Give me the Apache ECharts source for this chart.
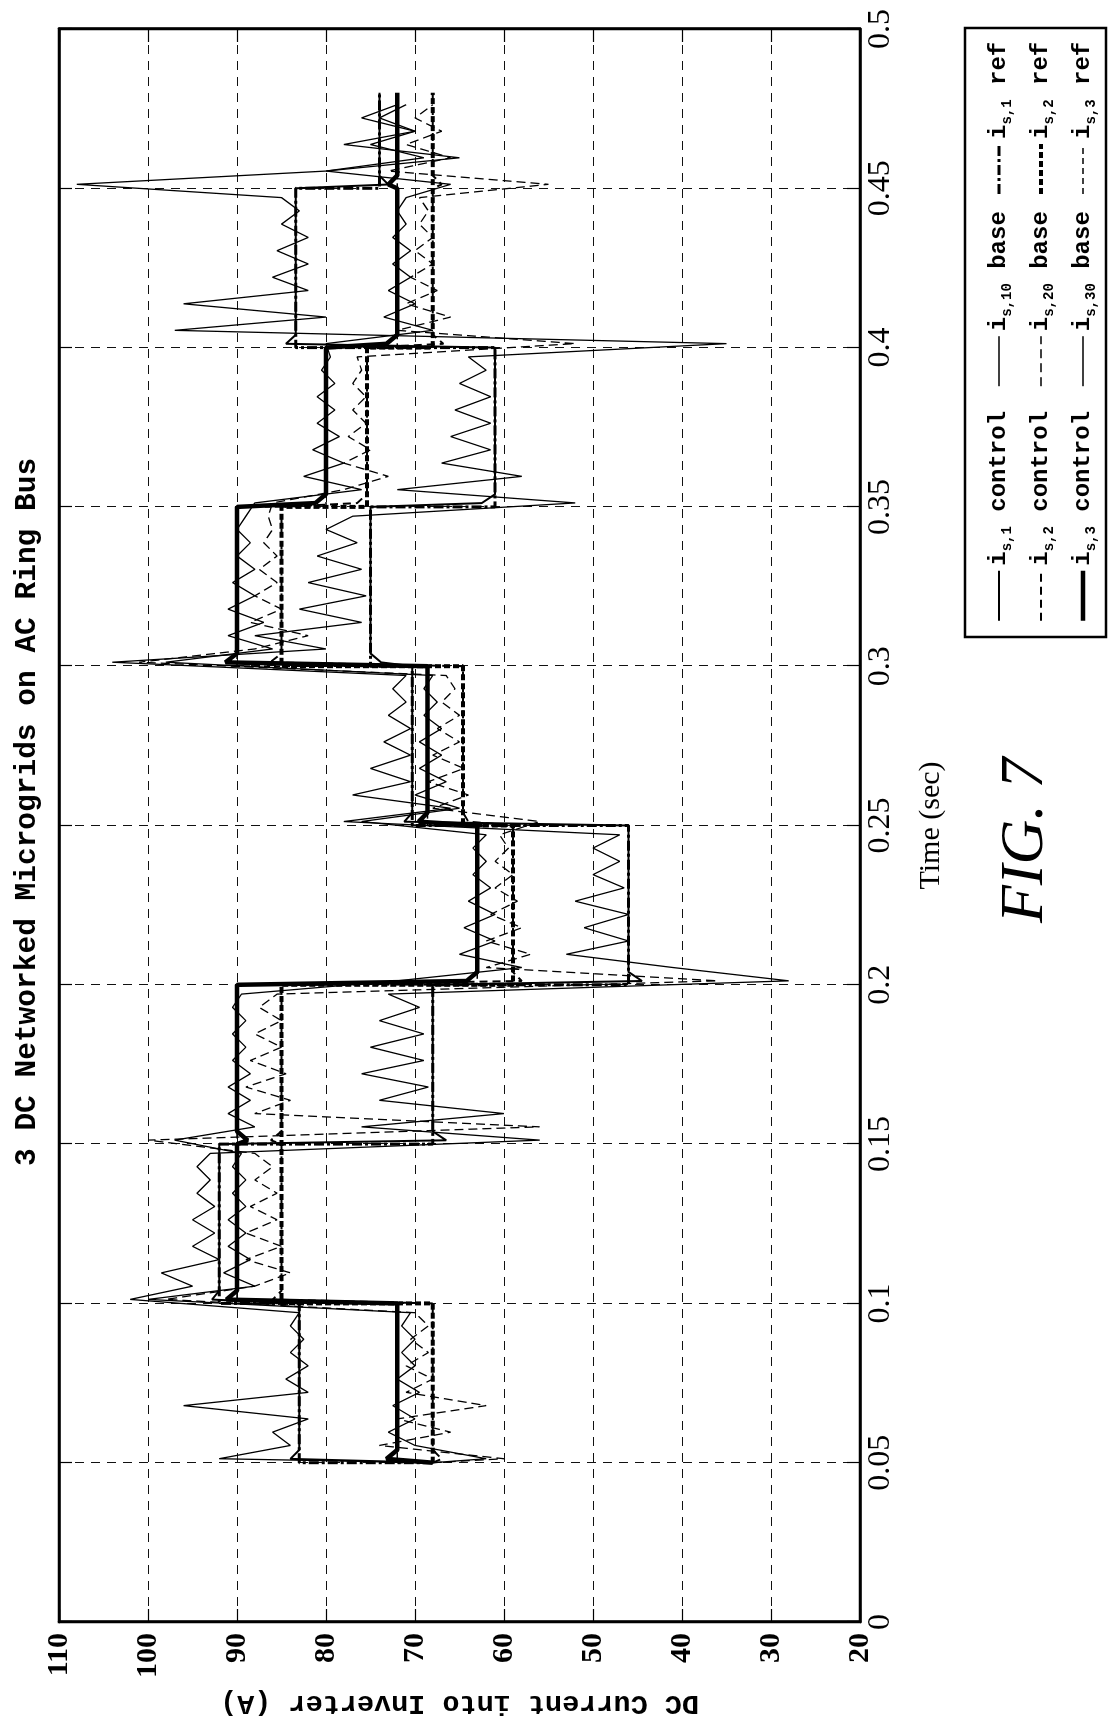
<!DOCTYPE html>
<html><head><meta charset="utf-8">
<script src="https://cdn.jsdelivr.net/npm/echarts@6/dist/echarts.min.js"></script>
<style>
html,body{margin:0;padding:0;width:1110px;height:1723px;overflow:hidden;background:#fff;}
#chart{position:absolute;left:0;top:0;width:1723px;height:1110px;transform-origin:0 0;transform:translate(0,1723px) rotate(-90deg);}
</style></head><body><div id="chart"></div>
<script>
// ---- data (time in s, current in A) ----
const stepTimes = [0.05, 0.10, 0.15, 0.20, 0.25, 0.30, 0.35, 0.40, 0.45];
const endTime = 0.48;
const startLevel = 68;
const timeTicks = [0, 0.05, 0.1, 0.15, 0.2, 0.25, 0.3, 0.35, 0.4, 0.45, 0.5];
const currentTicks = [20, 30, 40, 50, 60, 70, 80, 90, 100, 110];

// reference (step) levels per interval
const ref1 = [83, 92, 68, 46, 70.3, 75, 61, 83.4, 74];
const ref2 = [68, 85, 85, 59, 64.6, 85, 75.4, 68, 68];
const ref3 = [72, 90, 90, 63, 68.6, 90, 80, 72, 72];
// control: value reached just after each step (small overshoot)
const ctrlBump1 = [84, 92.8, 66.5, 44.5, 71.2, 73.8, 62.5, 84.5, 73];
const ctrlBump2 = [67, 86, 86.2, 58, 64, 86.3, 76.5, 66.8, 67];
const ctrlBump3 = [73.2, 91.2, 88.8, 64.2, 69.6, 91.3, 81.2, 73.2, 73];
// base (uncontrolled) currents, samples per interval
const base1 = [
  [92, 84, 86, 82, 96, 82, 84.5, 82, 84, 82.5, 84, 83],
  [102, 95, 98.5, 92, 95, 92.5, 95, 92.5, 94.5, 93, 94.5, 93],
  [56, 76, 60, 74, 68.5, 76, 69, 75, 69, 74, 69.5, 73],
  [28, 41, 53, 46, 51, 46, 52, 46.5, 50, 47, 50, 47],
  [78, 66, 77, 70.5, 75, 70.5, 73.5, 70.5, 73, 71, 72.5, 71],
  [104, 80, 88, 76, 83, 75.5, 82, 76, 81, 76.5, 80, 77],
  [52, 72, 58, 67, 61.5, 66, 61.5, 65.5, 61.5, 65, 62, 64],
  [35, 97, 80, 96, 82, 86, 82, 85.5, 82, 85, 83, 85],
  [108, 80, 65, 78, 70, 76, 72]
];
const base2 = [
  [60, 74, 66, 72, 62, 71, 68, 71, 68.5, 70.5, 68.5, 70],
  [98, 88, 84, 89, 85, 89, 85.5, 88.5, 85.5, 88, 86, 88],
  [100, 56, 88, 84, 89, 84.5, 88.5, 85, 88, 85, 87.5, 85.5],
  [36, 62, 57, 62, 58, 61.5, 58.5, 61, 59, 61, 59.5, 60.5],
  [56, 68, 64, 68.5, 64.5, 68, 65, 67.5, 65, 67, 65.5, 66.5],
  [101, 88, 82, 88.5, 85, 88, 85.5, 87.5, 85.5, 87, 86, 86.5],
  [86, 78, 73, 78, 75, 77.5, 75.5, 77, 75.5, 77, 76, 76.5],
  [52, 72, 66, 71, 67.5, 70.5, 68, 70, 68, 69.5, 68.5, 69.5],
  [55, 73, 66, 71, 67, 70, 68]
];
const base3 = [
  [62, 70, 73, 70, 72.5, 69.5, 72, 70, 71.5, 70, 71.5, 70.5],
  [100, 88, 91.5, 88.5, 91, 89, 91, 89, 90.5, 89, 90.5, 89.5],
  [97, 88, 91, 88.5, 91, 88.5, 90.5, 89, 90.5, 89, 90.5, 89.5],
  [72, 58, 65, 61, 64.5, 61, 64, 61.5, 63.5, 62, 63.5, 62],
  [76, 65, 70, 66.5, 69.5, 67, 69.5, 67, 69, 67.5, 69, 68],
  [98, 86, 91, 87, 91, 88, 90.5, 88, 90, 88.5, 90, 89],
  [88, 76, 82.5, 78, 81.5, 78.5, 81, 79, 81, 79, 80.5, 79.5],
  [80, 68, 73.5, 70, 73, 70.5, 72.5, 70.5, 72.5, 71, 72, 71],
  [66, 80, 69, 75, 70, 74, 71]
];
const legendColumns = [
  ['is1c', 'is2c', 'is3c'],
  ['is10b', 'is20b', 'is30b'],
  ['is1r', 'is2r', 'is3r']
];
const legendText = {
  is1c: '{i|i}{s|s,1} {t|control}', is10b: '{i|i}{s|s,10} {t|base}', is1r: '{i|i}{s|s,1} {t|ref}',
  is2c: '{i|i}{s|s,2} {t|control}', is20b: '{i|i}{s|s,20} {t|base}', is2r: '{i|i}{s|s,2} {t|ref}',
  is3c: '{i|i}{s|s,3} {t|control}', is30b: '{i|i}{s|s,30} {t|base}', is3r: '{i|i}{s|s,3} {t|ref}'
};

// ---- build series data ----
function intervalEnd(i) { return i + 1 < stepTimes.length ? stepTimes[i + 1] : endTime; }
function refData(levels) {
  const d = [[stepTimes[0], startLevel]];
  levels.forEach((v, i) => { d.push([stepTimes[i], v]); d.push([intervalEnd(i), v]); });
  return d;
}
function ctrlData(levels, bumps) {
  const d = [[stepTimes[0], startLevel]];
  levels.forEach((v, i) => {
    const t0 = stepTimes[i];
    d.push([t0 + 0.0012, bumps[i]]);
    d.push([t0 + 0.004, v]);
    d.push([intervalEnd(i), v]);
  });
  return d;
}
function baseData(segs) {
  const d = [[stepTimes[0], startLevel]];
  segs.forEach((seg, i) => {
    const dt = 0.05 / 12;
    seg.forEach((v, k) => d.push([stepTimes[i] + (k + 0.3) * dt, v]));
  });
  return d;
}

const K = '#000';
const seriesStyle = {
  is10b: [1.3, 'solid', 2], is20b: [1.3, [9, 5], 2], is30b: [1.3, 'solid', 2],
  is1c: [2, 'solid', 3], is2c: [2, [8, 5], 3], is3c: [4.5, 'solid', 3],
  is1r: [3, [10, 3, 3, 3], 4], is2r: [4, [6, 3], 4], is3r: [1.6, [6, 4], 4]
};
function mk(name, data) {
  const [width, type, z] = seriesStyle[name];
  return { name, type: 'line', data, symbol: 'none', z, silent: true,
    lineStyle: { color: K, width, type, join: 'bevel' }, itemStyle: { color: K } };
}
const series = [
  mk('is10b', baseData(base1)),
  mk('is20b', baseData(base2)),
  mk('is30b', baseData(base3)),
  mk('is1c', ctrlData(ref1, ctrlBump1)),
  mk('is2c', ctrlData(ref2, ctrlBump2)),
  mk('is3c', ctrlData(ref3, ctrlBump3)),
  mk('is1r', refData(ref1)),
  mk('is2r', refData(ref2)),
  mk('is3r', refData(ref3))
];

const mono = "'Liberation Mono', 'DejaVu Sans Mono', monospace";
const serif = "'Liberation Serif', 'DejaVu Serif', serif";
const gridDash = { show: true, lineStyle: { color: '#111', width: 1, type: [9, 7] } };

const legendLeft = [1100, 1336, 1527];
const legends = legendColumns.map((col, c) => ({
  data: col.map(n => ({ name: n, lineStyle: { width: Math.max(1.6, seriesStyle[n][0]), type: seriesStyle[n][1] } })),
  left: legendLeft[c], top: 984, orient: 'vertical',
  itemWidth: 50, itemHeight: 14, itemGap: 12, padding: 0, selectedMode: false,
  itemStyle: { color: 'transparent', borderColor: 'transparent', borderWidth: 0, opacity: 0 },
  formatter: n => legendText[n],
  textStyle: { color: K, fontFamily: mono, fontWeight: 'bold', fontSize: 24, lineHeight: 30,
    rich: {
      i: { fontFamily: mono, fontWeight: 'bold', fontSize: 24, lineHeight: 30, color: K },
      s: { fontFamily: mono, fontWeight: 'bold', fontSize: 14, lineHeight: 30, verticalAlign: 'bottom', color: K },
      t: { fontFamily: mono, fontWeight: 'bold', fontSize: 24, lineHeight: 30, color: K }
    } }
}));

const option = {
  animation: false,
  backgroundColor: '#fff',
  title: [
    { text: '3 DC Networked Microgrids on AC Ring Bus', left: 552, top: 8,
      textStyle: { fontFamily: mono, fontWeight: 'bold', fontSize: 29.5, color: K } },
    { text: 'FIG. 7', left: 795, top: 990,
      textStyle: { fontFamily: serif, fontStyle: 'italic', fontWeight: 'normal', fontSize: 62, color: K } }
  ],
  graphic: [
    { type: 'rect', shape: { x: 1086, y: 965, width: 609, height: 141 }, silent: true,
      style: { fill: 'none', stroke: K, lineWidth: 2.5 }, z: 10 }
  ],
  grid: { left: 101, right: 29, top: 59, bottom: 250, show: true, borderColor: K, borderWidth: 2.5,
    containLabel: false, outerBoundsMode: 'none' },
  legend: legends,
  xAxis: [
    { type: 'value', min: timeTicks[0], max: timeTicks[timeTicks.length - 1], interval: 0.05,
      position: 'bottom', name: 'Time (sec)', nameLocation: 'middle', nameGap: 56,
      nameTextStyle: { fontFamily: serif, fontSize: 30, color: K },
      axisLine: { show: true, onZero: false, lineStyle: { color: K, width: 2.5 } },
      axisTick: { show: true, inside: true, length: 13, lineStyle: { color: K, width: 1.2 } },
      axisLabel: { show: true, margin: 5, fontFamily: serif, fontSize: 32, color: K,
        formatter: v => String(+v.toFixed(2)) },
      splitLine: gridDash },
    { type: 'value', min: 0, max: 0.5, interval: 0.05, position: 'top',
      axisLine: { show: true, onZero: false, lineStyle: { color: K, width: 2.5 } },
      axisTick: { show: true, inside: true, length: 13, lineStyle: { color: K, width: 1.2 } },
      axisLabel: { show: false }, splitLine: { show: false } }
  ],
  yAxis: [
    { type: 'value', min: currentTicks[0], max: currentTicks[currentTicks.length - 1], interval: 10,
      position: 'left', name: 'DC Current into Inverter (A)', nameLocation: 'middle', nameGap: 63,
      nameTextStyle: { fontFamily: mono, fontWeight: 'bold', fontSize: 28.5, color: K },
      axisLine: { show: true, onZero: false, lineStyle: { color: K, width: 2.5 } },
      axisTick: { show: true, inside: true, length: 13, lineStyle: { color: K, width: 1.2 } },
      axisLabel: { show: true, margin: 11, fontFamily: serif, fontWeight: 'bold', fontSize: 30, color: K },
      splitLine: gridDash },
    { type: 'value', min: 20, max: 110, interval: 10, position: 'right',
      axisLine: { show: true, onZero: false, lineStyle: { color: K, width: 2.5 } },
      axisTick: { show: true, inside: true, length: 13, lineStyle: { color: K, width: 1.2 } },
      axisLabel: { show: false }, splitLine: { show: false } }
  ],
  series
};
const chart = echarts.init(document.getElementById('chart'), null, { renderer: 'canvas' });
chart.setOption(option);
</script></body></html>
